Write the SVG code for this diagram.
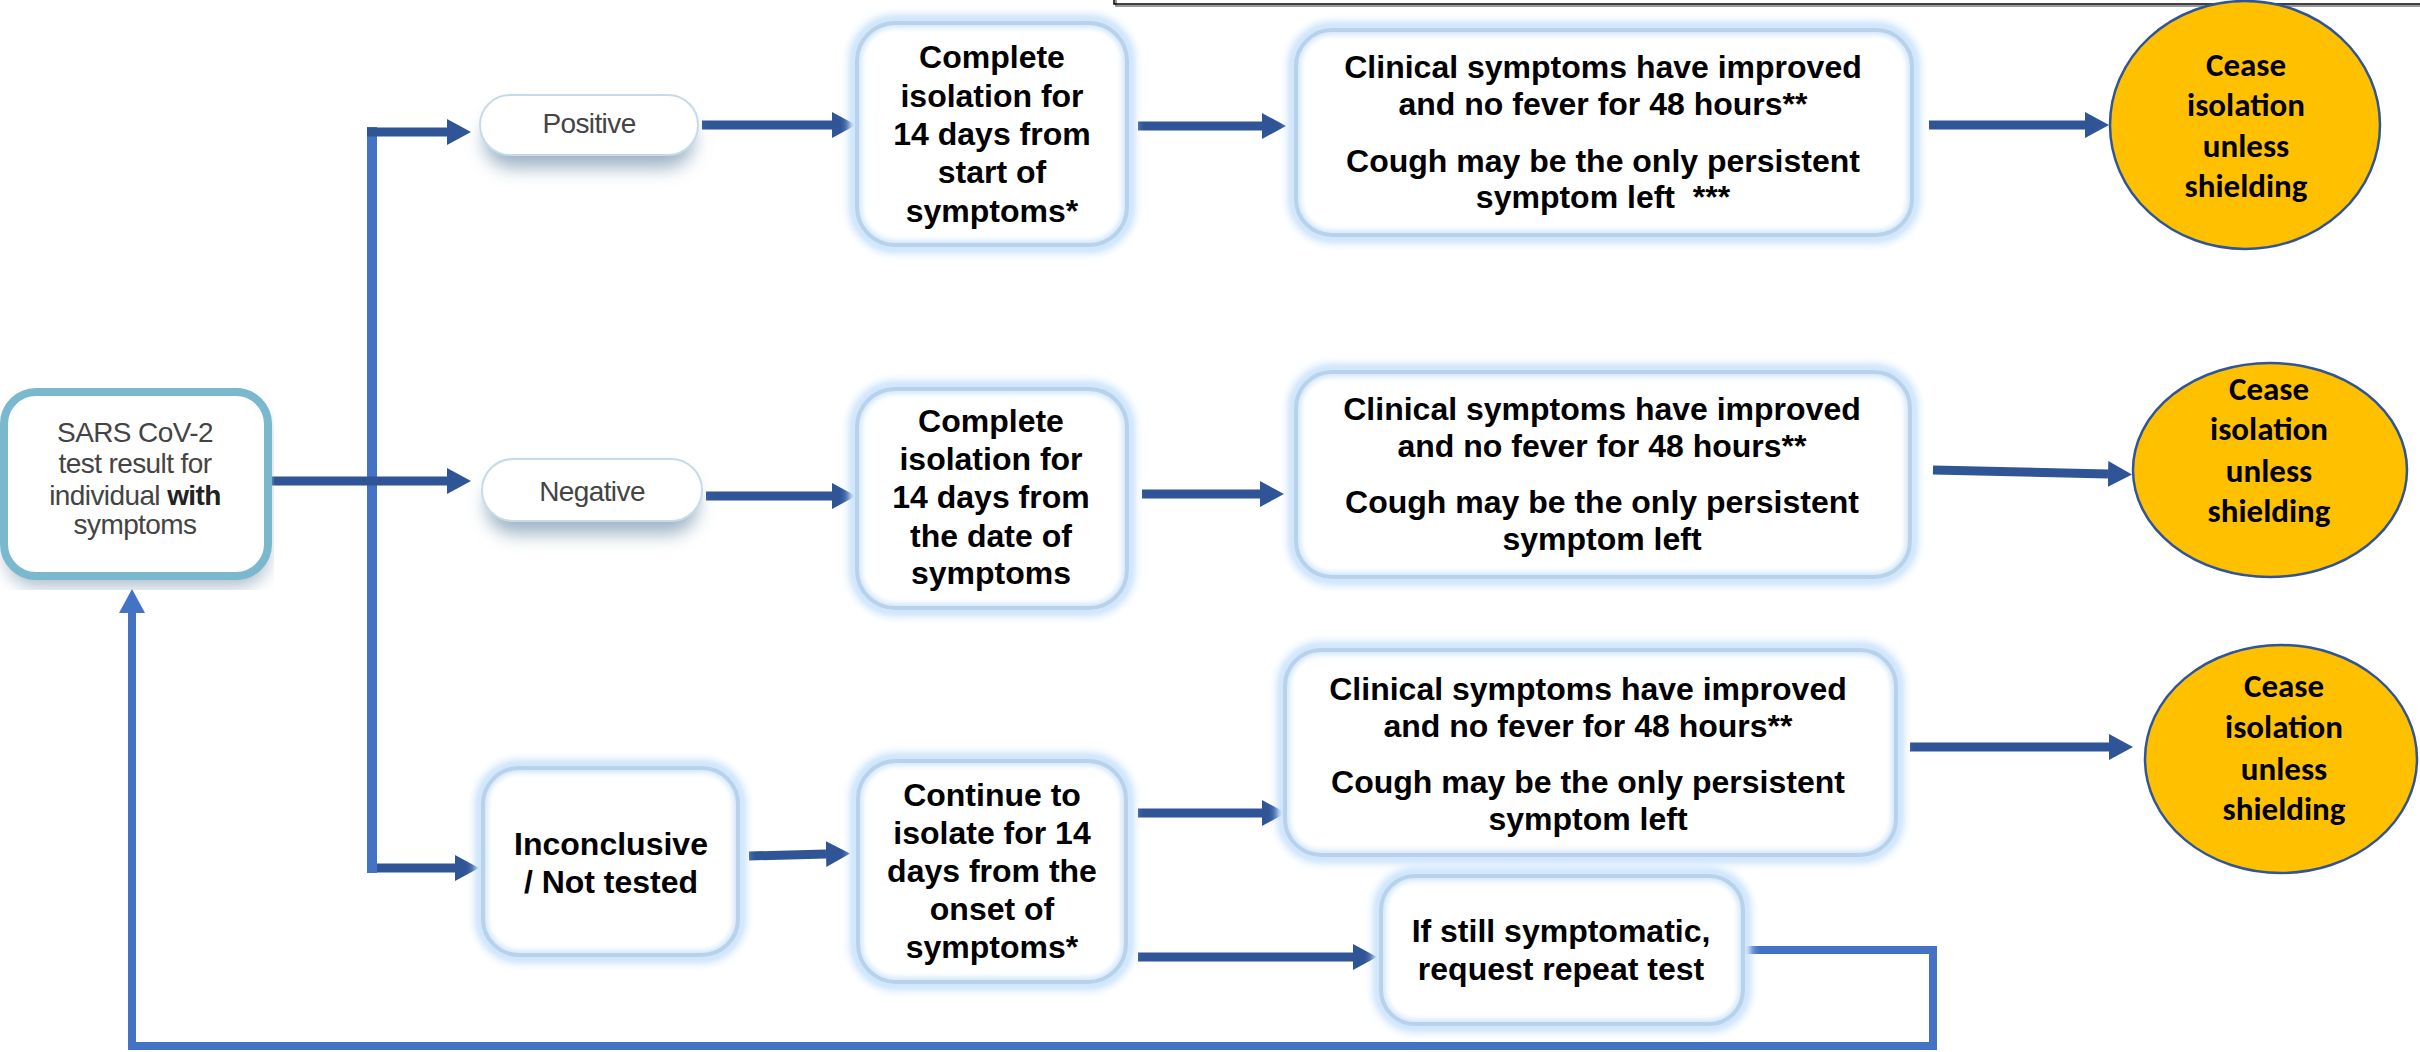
<svg xmlns="http://www.w3.org/2000/svg" width="2420" height="1052" viewBox="0 0 2420 1052">
<style>
.glow{fill:none;stroke:#C4E0FB;stroke-width:16;filter:url(#blur4)}
.box{fill:#fff;stroke:none}
.inner{fill:none;stroke:#D3E8FB;stroke-width:10;filter:url(#blur2)}
.edge{fill:none;stroke:#B9D2EC;stroke-width:4}
.pill{fill:#fff;stroke:#C6DBE8;stroke-width:2}
.pshadow{fill:#9EB3C6;filter:url(#blur8)}
.bt{font-family:"Liberation Sans",Arial,sans-serif;font-weight:bold;font-size:32px;text-anchor:middle;fill:#000}
.gt{font-family:"Liberation Sans",Arial,sans-serif;font-size:28px;text-anchor:middle;fill:#444;letter-spacing:-0.6px}
.ct{font-family:Carlito,Lato,"Liberation Sans",sans-serif;font-weight:bold;font-size:33px;text-anchor:middle;fill:#000}
.cease{fill:#FFC000;stroke:#2F5597;stroke-width:2.5}
.dk{fill:none;stroke:#2F5597;stroke-width:9;marker-end:url(#ah)}
.lt{fill:none;stroke:#4472C4;stroke-width:10}
</style>
<defs>
<filter id="blur4" x="-20%" y="-20%" width="140%" height="140%"><feGaussianBlur stdDeviation="4"/></filter>
<filter id="blur2" x="-20%" y="-20%" width="140%" height="140%"><feGaussianBlur stdDeviation="2.5"/></filter>
<filter id="blur8" x="-30%" y="-50%" width="160%" height="200%"><feGaussianBlur stdDeviation="9"/></filter>
<marker id="ah" markerUnits="userSpaceOnUse" markerWidth="24" markerHeight="26" viewBox="0 0 24 26" refX="0" refY="13" orient="auto"><path d="M0,0 L24,13 L0,26 z" fill="#2F5597"/></marker>
<marker id="ahl" markerUnits="userSpaceOnUse" markerWidth="24" markerHeight="26" viewBox="0 0 24 26" refX="0" refY="13" orient="auto"><path d="M0,0 L24,13 L0,26 z" fill="#4472C4"/></marker>
<clipPath id="mainclip"><rect x="0" y="372" width="274" height="218"/></clipPath>
</defs>
<rect width="2420" height="1052" fill="#fff"/>

<!-- top frame edge -->
<g id="frame">
<rect x="1116" y="-12" width="1320" height="18" fill="none" stroke="#9a9a9a" stroke-width="2"/>
<rect x="1114" y="-14" width="1320" height="18" fill="none" stroke="#000" stroke-width="1.5"/>
</g>

<g id="connectors">
<path class="lt" d="M372,127 V873"/>
<path class="dk" d="M367,132 H447"/>
<path class="dk" d="M272,481 H447"/>
<path class="dk" d="M377,868 H455"/>
<path class="dk" d="M702,125 H832"/>
<path class="dk" d="M706,496 H832"/>
<path class="dk" d="M749,856 L826,854"/>
<path class="dk" d="M1138,126 H1262"/>
<path class="dk" d="M1142,494 H1260"/>
<path class="dk" d="M1138,813 H1262"/>
<path class="dk" d="M1138,957 H1353"/>
<path class="dk" d="M1929,125 H2085"/>
<path class="dk" d="M1933,470 L2108,474"/>
<path class="dk" d="M1910,747 H2109"/>
<path fill="none" stroke="#4472C4" stroke-width="8" d="M1744,950 H1933 V1046 H132 V613" marker-end="url(#ahl)"/>
</g>

<g id="start">
<g clip-path="url(#mainclip)"><rect x="6" y="404" width="262" height="182" rx="30" fill="#A9B9CB" filter="url(#blur8)"/></g>
<rect x="4" y="392" width="264" height="184" rx="32" fill="#fff" stroke="#79B8CD" stroke-width="8"/>
<text class="gt" x="135" y="442">SARS CoV-2</text>
<text class="gt" x="135" y="473">test result for</text>
<text class="gt" x="135" y="505">individual <tspan font-weight="bold" fill="#222">with</tspan></text>
<text class="gt" x="135" y="534">symptoms</text>
</g>

<g id="positive">
<rect class="pshadow" x="484" y="112" width="210" height="56" rx="28"/>
<rect class="pill" x="480" y="95" width="218" height="60" rx="30"/>
<text class="gt" x="589" y="133">Positive</text>
</g>

<g id="negative">
<rect class="pshadow" x="486" y="476" width="212" height="58" rx="29"/>
<rect class="pill" x="482" y="459" width="220" height="62" rx="31"/>
<text class="gt" x="592" y="501">Negative</text>
</g>

<g id="inconclusive">
<rect class="glow" x="483" y="768" width="255" height="187" rx="36"/>
<rect class="box" x="483" y="768" width="255" height="187" rx="36"/>
<rect class="inner" x="483" y="768" width="255" height="187" rx="36"/>
<rect class="edge" x="483" y="768" width="255" height="187" rx="36"/>
<text class="bt" x="611" y="855">Inconclusive</text>
<text class="bt" x="611" y="893">/ Not tested</text>
</g>

<g id="iso-positive">
<rect class="glow" x="857" y="23" width="270" height="222" rx="38"/>
<rect class="box" x="857" y="23" width="270" height="222" rx="38"/>
<rect class="inner" x="857" y="23" width="270" height="222" rx="38"/>
<rect class="edge" x="857" y="23" width="270" height="222" rx="38"/>
<text class="bt" x="992" y="68">Complete</text>
<text class="bt" x="992" y="107">isolation for</text>
<text class="bt" x="992" y="145">14 days from</text>
<text class="bt" x="992" y="183">start of</text>
<text class="bt" x="992" y="222">symptoms*</text>
</g>

<g id="iso-negative">
<rect class="glow" x="857" y="389" width="270" height="219" rx="38"/>
<rect class="box" x="857" y="389" width="270" height="219" rx="38"/>
<rect class="inner" x="857" y="389" width="270" height="219" rx="38"/>
<rect class="edge" x="857" y="389" width="270" height="219" rx="38"/>
<text class="bt" x="991" y="432">Complete</text>
<text class="bt" x="991" y="470">isolation for</text>
<text class="bt" x="991" y="508">14 days from</text>
<text class="bt" x="991" y="547">the date of</text>
<text class="bt" x="991" y="584">symptoms</text>
</g>

<g id="continue">
<rect class="glow" x="858" y="761" width="268" height="221" rx="38"/>
<rect class="box" x="858" y="761" width="268" height="221" rx="38"/>
<rect class="inner" x="858" y="761" width="268" height="221" rx="38"/>
<rect class="edge" x="858" y="761" width="268" height="221" rx="38"/>
<text class="bt" x="992" y="806">Continue to</text>
<text class="bt" x="992" y="844">isolate for 14</text>
<text class="bt" x="992" y="882">days from the</text>
<text class="bt" x="992" y="920">onset of</text>
<text class="bt" x="992" y="958">symptoms*</text>
</g>

<g id="clinical-1">
<rect class="glow" x="1296" y="30" width="616" height="205" rx="36"/>
<rect class="box" x="1296" y="30" width="616" height="205" rx="36"/>
<rect class="inner" x="1296" y="30" width="616" height="205" rx="36"/>
<rect class="edge" x="1296" y="30" width="616" height="205" rx="36"/>
<text class="bt" x="1603" y="78">Clinical symptoms have improved</text>
<text class="bt" x="1603" y="115">and no fever for 48 hours**</text>
<text class="bt" x="1603" y="172">Cough may be the only persistent</text>
<text class="bt" x="1603" y="208" xml:space="preserve">symptom left  ***</text>
</g>

<g id="clinical-2">
<rect class="glow" x="1296" y="372" width="614" height="205" rx="36"/>
<rect class="box" x="1296" y="372" width="614" height="205" rx="36"/>
<rect class="inner" x="1296" y="372" width="614" height="205" rx="36"/>
<rect class="edge" x="1296" y="372" width="614" height="205" rx="36"/>
<text class="bt" x="1602" y="420">Clinical symptoms have improved</text>
<text class="bt" x="1602" y="457">and no fever for 48 hours**</text>
<text class="bt" x="1602" y="513">Cough may be the only persistent</text>
<text class="bt" x="1602" y="550">symptom left</text>
</g>

<g id="clinical-3">
<rect class="glow" x="1285" y="650" width="611" height="205" rx="36"/>
<rect class="box" x="1285" y="650" width="611" height="205" rx="36"/>
<rect class="inner" x="1285" y="650" width="611" height="205" rx="36"/>
<rect class="edge" x="1285" y="650" width="611" height="205" rx="36"/>
<text class="bt" x="1588" y="700">Clinical symptoms have improved</text>
<text class="bt" x="1588" y="737">and no fever for 48 hours**</text>
<text class="bt" x="1588" y="793">Cough may be the only persistent</text>
<text class="bt" x="1588" y="830">symptom left</text>
</g>

<g id="repeat-test">
<rect class="glow" x="1381" y="876" width="362" height="148" rx="34"/>
<rect class="box" x="1381" y="876" width="362" height="148" rx="34"/>
<rect class="inner" x="1381" y="876" width="362" height="148" rx="34"/>
<rect class="edge" x="1381" y="876" width="362" height="148" rx="34"/>
<text class="bt" x="1561" y="942">If still symptomatic,</text>
<text class="bt" x="1561" y="980">request repeat test</text>
</g>

<g id="cease-1">
<ellipse class="cease" cx="2245" cy="125" rx="135" ry="124"/>
<text class="ct" x="2246" y="76">Cease</text>
<text class="ct" x="2246" y="116">isolation</text>
<text class="ct" x="2246" y="157">unless</text>
<text class="ct" x="2246" y="197">shielding</text>
</g>

<g id="cease-2">
<ellipse class="cease" cx="2270" cy="470" rx="137" ry="107"/>
<text class="ct" x="2269" y="400">Cease</text>
<text class="ct" x="2269" y="440">isolation</text>
<text class="ct" x="2269" y="482">unless</text>
<text class="ct" x="2269" y="522">shielding</text>
</g>

<g id="cease-3">
<ellipse class="cease" cx="2281" cy="759" rx="136" ry="114"/>
<text class="ct" x="2284" y="697">Cease</text>
<text class="ct" x="2284" y="738">isolation</text>
<text class="ct" x="2284" y="780">unless</text>
<text class="ct" x="2284" y="820">shielding</text>
</g>
</svg>
